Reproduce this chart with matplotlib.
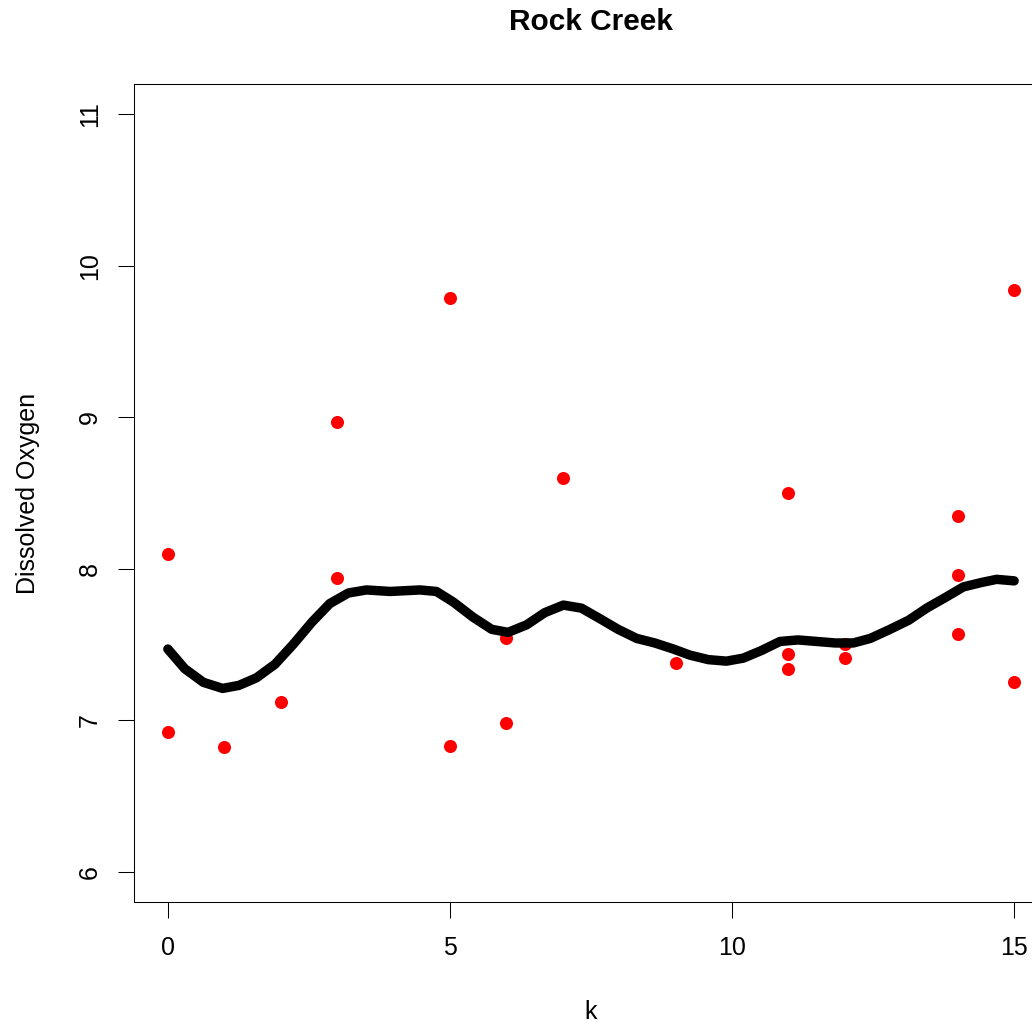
import matplotlib.pyplot as plt

plt.rcParams['font.family'] = ['Liberation Sans', 'DejaVu Sans']

# observed dissolved oxygen by k
k_obs = [0, 0, 1, 2, 3, 3, 5, 5, 6, 6, 7, 9, 11, 11, 11, 12, 12, 14, 14, 14, 15, 15]
do_obs = [8.10, 6.92, 6.82, 7.12, 8.97, 7.94, 9.79, 6.83, 7.54, 6.98, 8.60, 7.38,
          8.50, 7.44, 7.34, 7.50, 7.41, 8.35, 7.96, 7.57, 9.84, 7.25]

# smoothed curve
k_fit = [0.0, 0.30, 0.63, 0.97, 1.26, 1.57, 1.90, 2.22, 2.56, 2.87, 3.20, 3.52,
         3.94, 4.47, 4.76, 5.06, 5.41, 5.74, 6.03, 6.36, 6.68, 7.01, 7.33, 7.66,
         7.98, 8.31, 8.63, 8.96, 9.25, 9.58, 9.90, 10.20, 10.52, 10.85, 11.17,
         11.50, 11.83, 12.15, 12.45, 12.80, 13.13, 13.45, 13.78, 14.10, 14.43,
         14.69, 15.0]
do_fit = [7.47, 7.34, 7.25, 7.21, 7.23, 7.28, 7.37, 7.50, 7.65, 7.77, 7.84, 7.86,
          7.85, 7.86, 7.85, 7.78, 7.68, 7.60, 7.58, 7.63, 7.71, 7.76, 7.74, 7.67,
          7.60, 7.54, 7.51, 7.47, 7.43, 7.40, 7.39, 7.41, 7.46, 7.52, 7.53, 7.52,
          7.51, 7.51, 7.54, 7.60, 7.66, 7.74, 7.81, 7.88, 7.91, 7.93, 7.92]

fig = plt.figure(figsize=(10.32, 10.26), dpi=100)
ax = fig.add_axes([134 / 1032, 124 / 1026, 914 / 1032, 818 / 1026])

ax.plot(k_obs, do_obs, 'o', color='red', markersize=9.4, markeredgewidth=0)
ax.plot(k_fit, do_fit, color='black', lw=6.8, solid_capstyle='round',
        solid_joinstyle='round')

ax.set_xlim(-0.6, 15.6)
ax.set_ylim(5.8, 11.2)
ax.set_xticks([0, 5, 10, 15])
ax.set_yticks([6, 7, 8, 9, 10, 11])
ax.tick_params(axis='both', direction='out', length=11.5, width=0.75,
               labelsize=18)
ax.tick_params(axis='x', pad=13)
ax.tick_params(axis='y', pad=11.5)
for lbl in ax.get_yticklabels():
    lbl.set_rotation(90)
    lbl.set_va('center')
for s in ax.spines.values():
    s.set_linewidth(0.75)

ax.set_xlabel('k', fontsize=18, va='center')
ax.xaxis.set_label_coords(0.5, (902 - 1012) / 818)
ax.set_ylabel('Dissolved Oxygen', fontsize=18, va='center')
ax.yaxis.set_label_coords((28 - 134) / 914, 0.5)
ax.set_title('Rock Creek', fontsize=21.5, fontweight='bold', va='center',
             y=(902 - 22) / 818, pad=0)

fig.savefig('out.png', dpi=100)
